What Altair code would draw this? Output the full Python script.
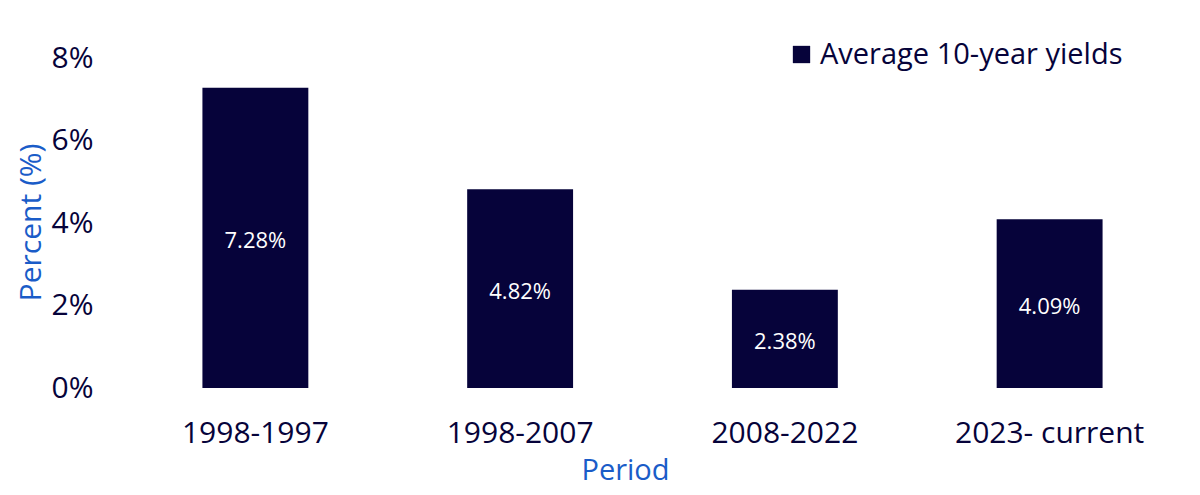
import altair as alt
import pandas as pd

periods = ["1998-1997", "1998-2007", "2008-2022", "2023- current"]
yields = [7.28, 4.82, 2.38, 4.09]
series_name = "Average 10-year yields"

df = pd.DataFrame({"period": periods, "value": yields, "series": [series_name] * len(periods)})

NAVY = "#06033a"
BLUE = "#1a5cc8"
FONT = "Open Sans"

base = alt.Chart(df).transform_calculate(
    mid="datum.value / 2",
    label="format(datum.value, '.2f') + '%'",
)

x_enc = alt.X(
    "period:N",
    sort=periods,
    scale=alt.Scale(paddingInner=0.6, paddingOuter=0.3),
    axis=alt.Axis(
        title="Period",
        labelAngle=0,
        labelFont=FONT,
        labelFontSize=30,
        labelColor=NAVY,
        labelPadding=30,
        labelLimit=0,
        ticks=False,
        domain=False,
        titleFont=FONT,
        titleFontSize=29,
        titleFontWeight="normal",
        titleColor=BLUE,
        titleX=502,
        titleY=82,
        titleBaseline="middle",
    ),
)

bars = base.mark_bar(color=NAVY).encode(
    x=x_enc,
    y=alt.Y(
        "value:Q",
        scale=alt.Scale(domain=[0, 8]),
        axis=alt.Axis(
            title="Percent (%)",
            values=[0, 2, 4, 6, 8],
            labelExpr="datum.value + '%'",
            labelFont=FONT,
            labelFontSize=30,
            labelColor=NAVY,
            labelPadding=30,
            ticks=False,
            domain=False,
            grid=False,
            titleFont=FONT,
            titleFontSize=30,
            titleFontWeight="normal",
            titleColor=BLUE,
            titleX=-92,
            titleY=164,
            titleAlign="center",
            titleBaseline="middle",
        ),
    ),
    color=alt.Color(
        "series:N",
        scale=alt.Scale(range=[NAVY]),
        legend=alt.Legend(
            title=None,
            orient="none",
            legendX=664,
            legendY=-18,
            symbolType="square",
            symbolSize=300,
            symbolStrokeWidth=0,
            labelFont=FONT,
            labelFontSize=29,
            labelColor=NAVY,
            labelOffset=4,
            labelLimit=0,
        ),
    ),
)

labels = base.mark_text(
    color="white", font=FONT, fontSize=22, baseline="middle", align="center", dy=3
).encode(
    x=alt.X("period:N", sort=periods),
    y=alt.Y("mid:Q"),
    text="label:N",
)

chart = (
    alt.layer(bars, labels)
    .properties(
        width=1059,
        height=330,
        autosize=alt.AutoSizeParams(type="none"),
        padding={"left": 115, "top": 50, "right": 10, "bottom": 99},
    )
    .configure_view(stroke=None)
)

chart.save("out.html", embed_options={"renderer": "svg", "actions": False})
